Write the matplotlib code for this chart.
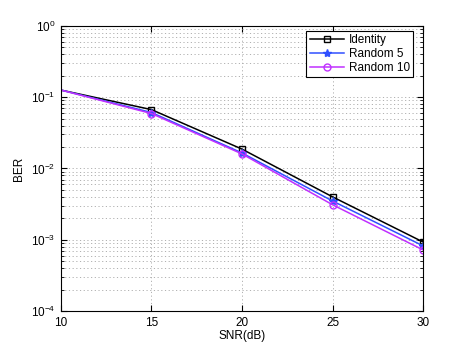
import matplotlib.pyplot as plt
from matplotlib.ticker import LogLocator, NullFormatter

plt.rcParams["font.family"] = ["Liberation Sans", "DejaVu Sans"]
plt.rcParams["font.size"] = 8.5

snr = [10, 15, 20, 25, 30]
ber_identity = [0.126, 0.067, 0.0187, 0.0040, 0.00093]
ber_random5 = [0.126, 0.061, 0.0165, 0.0035, 0.00082]
ber_random10 = [0.126, 0.059, 0.0160, 0.0031, 0.00072]

fig = plt.figure(figsize=(4.67, 3.51), dpi=100)
ax = fig.add_axes([0.1306, 0.114, 0.7752, 0.812])

marks = [1, 2, 3, 4]
ax.semilogy(snr, ber_identity, color="black", marker="s", mfc="none", ms=5, lw=1.1,
            markevery=marks, label="Identity")
ax.semilogy(snr, ber_random5, color="#3050ff", marker="*", ms=6, lw=1.1,
            markevery=marks, label="Random 5")
ax.semilogy(snr, ber_random10, color="#c030ff", marker="o", mfc="none", ms=5, lw=1.1,
            markevery=marks, label="Random 10")

ax.set_xlim(10, 30)
ax.set_ylim(1e-4, 1)
ax.set_xticks([10, 15, 20, 25, 30])
ax.yaxis.set_major_locator(LogLocator(base=10, numticks=10))
ax.yaxis.set_minor_locator(LogLocator(base=10, subs=range(2, 10), numticks=10))
ax.yaxis.set_minor_formatter(NullFormatter())
ax.tick_params(which="both", direction="in", top=True, right=True, pad=4)
ax.tick_params(which="major", length=4)
ax.tick_params(which="minor", length=2)

grid_style = dict(linestyle=(0, (1.2, 2.6)), color="#b0b0b0", lw=0.7)
ax.grid(True, which="major", **grid_style)
ax.grid(True, which="minor", axis="y", **grid_style)

ax.set_xlabel("SNR(dB)", labelpad=1)
ax.set_ylabel("BER")

leg = ax.legend(loc="upper right", bbox_to_anchor=(0.973, 0.983), borderaxespad=0,
                fancybox=False, framealpha=1, edgecolor="black",
                handlelength=2.9, handletextpad=0.4, labelspacing=0.15,
                borderpad=0.3, fontsize=8.5)
leg.get_frame().set_linewidth(0.8)

fig.savefig("out.png", dpi=100)
